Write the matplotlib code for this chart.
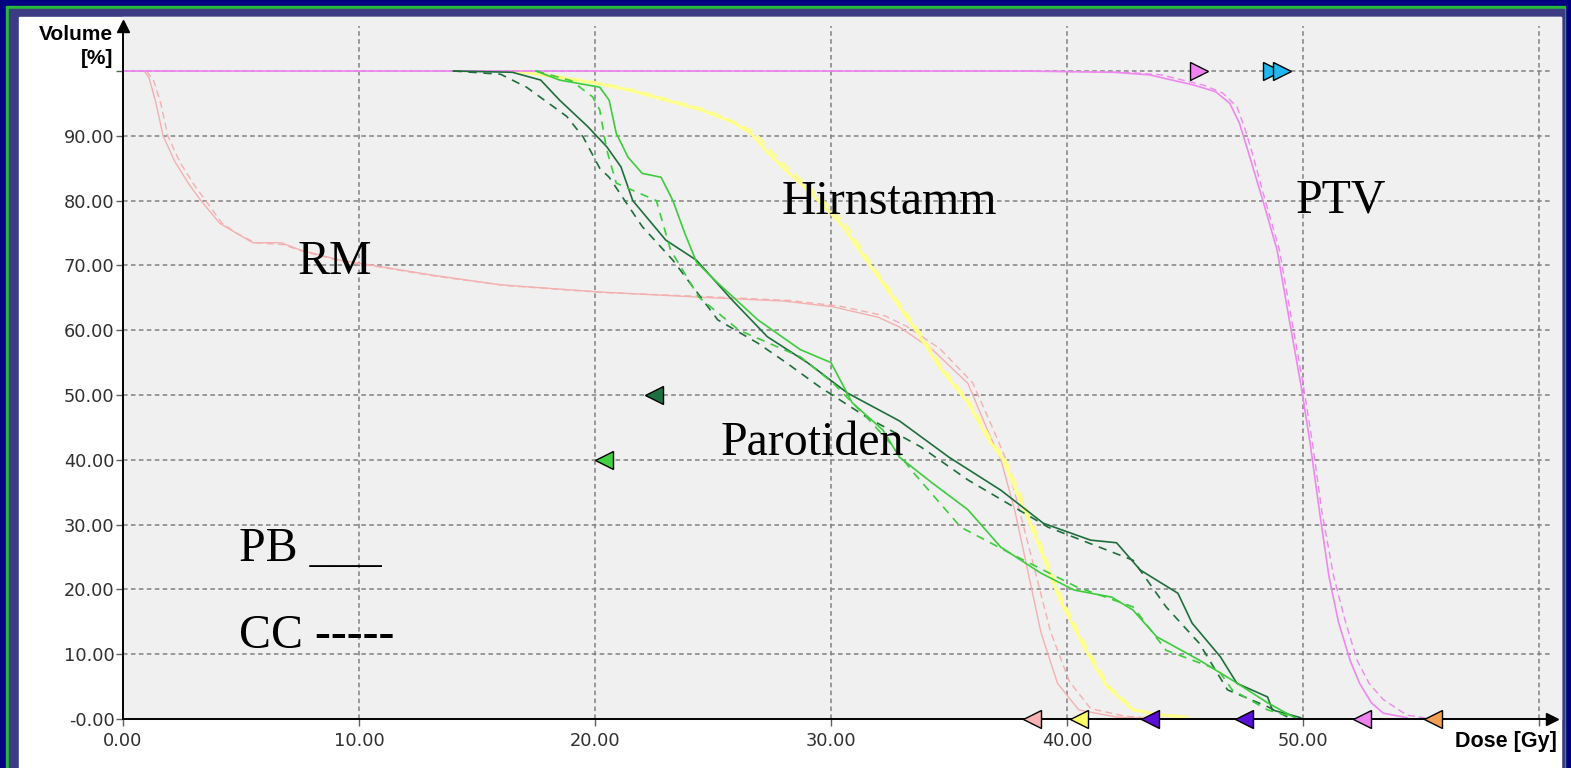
import matplotlib
matplotlib.use("Agg")
import matplotlib.pyplot as plt
from matplotlib.patches import Rectangle

# ---- data ----
rm_pb_x = [0.9, 1.1, 1.4, 1.7, 2.2, 2.8, 3.3, 4.1, 4.7, 5.5, 6.7, 7.5, 9.2, 10.6, 13.1, 16.0, 20.2,
           24.4, 28.0, 30.1, 32.0, 32.9, 34.3, 35.8, 36.7, 37.2, 37.8, 38.3, 38.9, 39.6, 40.5, 42.1, 44.0]
rm_pb_y = [100, 99, 95, 90, 86, 82.5, 80, 76.5, 75.2, 73.5, 73.5, 72.4, 70.8, 70.0, 68.5, 67.0, 65.9,
           65.1, 64.5, 63.6, 62.0, 60.5, 57.0, 51.8, 44.0, 40.0, 32.0, 23.5, 13.3, 5.5, 1.4, 0.3, 0.0]
rm_cc_x = [1.0, 1.3, 1.6, 1.9, 2.4, 3.0, 3.5, 4.2, 4.8, 5.6, 6.8, 7.6, 9.3, 10.8, 13.3, 16.2, 20.4,
           24.6, 28.2, 30.4, 32.3, 33.2, 34.6, 36.0, 36.9, 37.4, 38.0, 38.6, 39.3, 40.1, 41.0, 42.5, 44.3]
rm_cc_y = [100, 98.5, 95, 90, 86, 82.5, 80, 76.5, 75.0, 73.5, 73.2, 72.2, 70.6, 69.8, 68.3, 66.9, 65.8,
           65.2, 64.6, 63.7, 62.2, 60.6, 57.2, 51.9, 44.5, 40.2, 32.0, 23.5, 13.5, 5.8, 1.6, 0.4, 0.0]

hs_pb_x = [16.5, 17.0, 18.5, 20.2, 21.5, 23.0, 24.5, 25.9, 26.6, 27.3, 28.0, 29.2, 30.4, 31.5, 32.5,
           33.6, 34.6, 35.8, 36.7, 37.3, 38.6, 39.7, 40.8, 41.7, 42.8, 44.0, 45.0]
hs_pb_y = [100, 99.8, 99, 98, 97, 95.5, 94, 92, 90.4, 87.5, 85, 81, 76.5, 70.8, 65.7,
           60, 54.3, 48.8, 43, 40, 28.7, 18.4, 10.6, 5, 1.4, 0.6, 0.3]
hs_cc_x = [16.8, 17.3, 18.8, 20.4, 21.7, 23.2, 24.7, 26.0, 26.8, 27.5, 28.2, 29.4, 30.6, 31.6, 32.6,
           33.7, 34.7, 35.9, 36.8, 37.4, 38.7, 39.8, 40.9, 41.8, 42.9, 44.1, 45.2]
hs_cc_y = hs_pb_y

ptv_pb_x = [0, 38.0, 42.0, 43.5, 45.4, 46.3, 46.9, 47.3, 47.6, 48.3, 48.9, 49.4, 49.9, 50.3, 50.7,
            51.1, 51.5, 52.0, 52.4, 52.9, 53.4, 54.4]
ptv_pb_y = [100, 100, 99.8, 99.4, 97.8, 96.8, 95.0, 92.0, 88.5, 80, 72.4, 62, 51.8, 42.6, 32,
            22, 15, 9, 5.5, 2.5, 0.9, 0.2]
ptv_cc_x = [0, 38.5, 42.5, 44.0, 45.8, 46.6, 47.2, 47.5, 47.8, 48.4, 49.0, 49.5, 50.0, 50.4, 50.8,
            51.3, 51.8, 52.3, 52.8, 53.4, 54.4, 55.3]
ptv_cc_y = [100, 100, 99.8, 99.4, 97.8, 96.6, 94.5, 91.5, 88.0, 80, 72.4, 62, 51.8, 42.6, 32,
            22, 15, 9, 5.5, 3.0, 0.6, 0.1]

pdk_pb_x = [14.0, 16.5, 17.7, 18.5, 19.7, 20.5, 21.1, 21.6, 23.0, 24.3, 25.8, 27.3, 29.0, 30.7, 32.9,
            35.0, 37.2, 39.0, 41.0, 42.1, 43.1, 44.7, 45.3, 46.5, 47.2, 48.5, 48.7, 49.9]
pdk_pb_y = [100, 99.8, 98.6, 95.5, 91.4, 88.3, 85.2, 80, 73.9, 70.8, 64.7, 59, 55, 50.3, 46,
            40.4, 35.3, 30.2, 27.6, 27.2, 23, 19.4, 14.8, 9.6, 5.5, 3.4, 1.4, 0.2]
pdk_cc_x = [14.0, 16.0, 17.1, 18.8, 19.5, 20.2, 20.6, 22.0, 23.3, 25.2, 26.9, 28.1, 29.5, 31.5, 33.8,
            35.8, 39.2, 42.8, 44.2, 45.6, 46.8, 48.5, 49.4]
pdk_cc_y = [100, 99.5, 97.5, 93, 89.8, 85, 83.6, 76, 70.8, 61.6, 58, 55, 51.3, 46.6, 42,
            36.9, 29.6, 24.5, 17.3, 11.7, 4.5, 1.9, 0.2]

plt_pb_x = [17.5, 18.5, 20.2, 20.6, 20.9, 21.4, 22.0, 22.8, 23.3, 23.8, 24.3, 25.2, 26.9, 28.7, 30.0,
            30.9, 32.2, 32.9, 34.3, 35.8, 37.2, 38.9, 40.3, 41.9, 42.8, 43.8, 45.6, 47.0, 48.5, 49.6]
plt_pb_y = [100, 98.6, 97.5, 95.5, 90.4, 86.7, 84.2, 83.6, 80, 75, 70.5, 67.3, 61.6, 57, 55,
            48.8, 44.6, 40.4, 36.4, 32.3, 26.5, 22.5, 19.9, 18.8, 16.8, 12.7, 9.1, 6, 2.5, 0.3]
plt_cc_x = [17.5, 19.0, 19.9, 20.2, 20.5, 20.9, 22.6, 23.2, 24.4, 26.1, 28.7, 30.1, 31.5, 32.5, 33.5,
            35.5, 37.9, 40.4, 42.8, 44.2, 46.4, 47.0, 48.5, 49.7]
plt_cc_y = [100, 98.5, 96, 94, 87.8, 82.7, 80, 72.4, 65.1, 60, 55.9, 51.8, 46.6, 42.6, 38,
            29.6, 25, 20.4, 17.3, 10.6, 7.6, 4.5, 1.4, 0.2]

# triangle markers on the dose axis / at 100 %
low_marker_x = [38.5, 40.5, 43.5, 47.5, 52.5, 55.5]
low_marker_c = ['#f8b4b4', '#ffff66', '#5a10d8', '#5a10d8', '#ee82ee', '#f0a050']
top_marker_x = [45.6, 48.7, 49.1]
top_marker_c = ['#ee82ee', '#20b8f0', '#20b8f0']
mid_marker_x = [22.5, 20.4]
mid_marker_y = [50, 40]
mid_marker_c = ['#1e7040', '#40d040']

x_ticks = [0, 10, 20, 30, 40, 50, 60]
x_labels = ['0.00', '10.00', '20.00', '30.00', '40.00', '50.00', '']
y_ticks = [0, 10, 20, 30, 40, 50, 60, 70, 80, 90, 100]
y_labels = ['-0.00', '10.00', '20.00', '30.00', '40.00', '50.00', '60.00', '70.00', '80.00', '90.00', '']

labels = ['RM', 'Hirnstamm', 'PTV', 'Parotiden', 'PB ___', 'CC -----']
label_x = [7.4, 27.9, 49.7, 25.3, 4.9, 4.9]
label_y = [68.7, 77.9, 78.1, 40.7, 24.4, 11.0]

W, H = 1571, 768
fig = plt.figure(figsize=(W / 100, H / 100), dpi=100)
fig.patch.set_facecolor('#000080')


def box(x0, y0, x1, y1, color):
    # pixel box (top-left origin) -> figure rectangle
    fig.patches.append(Rectangle((x0 / W, 1 - y1 / H), (x1 - x0) / W, (y1 - y0) / H,
                                 transform=fig.transFigure, color=color, zorder=-10))


box(6, 6, 1565, 768, '#28b838')
box(9, 9, 1564, 768, '#3c3c84')
box(19, 17, 1561, 768, '#ffffff')
box(123, 17, 1561, 719, '#f0f0f0')

ax_l, ax_r, ax_b, ax_t = 123, 1552, 719, 26
ax = fig.add_axes([ax_l / W, 1 - ax_b / H, (ax_r - ax_l) / W, (ax_b - ax_t) / H])
ax.set_facecolor('none')
ax.set_xlim(0, (ax_r - ax_l) / 23.6)
ax.set_ylim(0, (ax_b - ax_t) / 6.48)

ax.grid(True, color='#808080', linestyle=(0, (3, 2.2)), linewidth=1.1)
ax.set_axisbelow(True)

# DVH curves: solid = PB, dashed = CC
ax.plot(rm_pb_x, rm_pb_y, color='#f4b0b0', lw=1.0)
ax.plot(rm_cc_x, rm_cc_y, color='#f4b0b0', lw=1.0, ls=(0, (5, 3)))
ax.plot(hs_pb_x, hs_pb_y, color='#ffff8c', lw=2.2)
ax.plot(hs_cc_x, hs_cc_y, color='#ffff8c', lw=1.6, ls=(0, (5, 3)))
ax.plot(ptv_pb_x, ptv_pb_y, color='#ee88ee', lw=1.2)
ax.plot(ptv_cc_x, ptv_cc_y, color='#ee88ee', lw=1.0, ls=(0, (5, 3)))
ax.plot(pdk_pb_x, pdk_pb_y, color='#1e6e3c', lw=1.2)
ax.plot(pdk_cc_x, pdk_cc_y, color='#1e6e3c', lw=1.2, ls=(0, (5, 4)))
ax.plot(plt_pb_x, plt_pb_y, color='#3ccc3c', lw=1.2)
ax.plot(plt_cc_x, plt_cc_y, color='#3ccc3c', lw=1.2, ls=(0, (5, 4)))

for x, c in zip(low_marker_x, low_marker_c):
    ax.plot(x, 0, marker='<', ms=13, mfc=c, mec='black', mew=1.0, clip_on=False, zorder=6)
for x, c in zip(top_marker_x, top_marker_c):
    ax.plot(x, 100, marker='>', ms=13, mfc=c, mec='black', mew=1.0, clip_on=False, zorder=6)
for x, y, c in zip(mid_marker_x, mid_marker_y, mid_marker_c):
    ax.plot(x, y, marker='<', ms=13, mfc=c, mec='black', mew=1.0, clip_on=False, zorder=6)

for s, x, y in zip(labels, label_x, label_y):
    ax.text(x, y, s, family='Liberation Serif', fontsize=34.5, color='black',
            ha='left', va='baseline', zorder=7)

# axes: only left/bottom with arrow heads
for side in ['top', 'right']:
    ax.spines[side].set_visible(False)
for side in ['left', 'bottom']:
    ax.spines[side].set_color('black')
    ax.spines[side].set_linewidth(1.4)
    ax.spines[side].set_zorder(5)
ax.plot(0, 1, marker='^', ms=9, color='black', transform=ax.transAxes, clip_on=False, zorder=8)
ax.plot(1, 0, marker='>', ms=9, color='black', transform=ax.transAxes, clip_on=False, zorder=8)

ax.set_xticks(x_ticks)
ax.set_xticklabels(x_labels)
ax.set_yticks(y_ticks)
ax.set_yticklabels(y_labels)
ax.tick_params(direction='out', length=5, width=1, color='#606060', labelcolor='#303030',
               labelsize=12.8, pad=1)
ax.tick_params(axis='x', pad=4)
for lab in ax.get_xticklabels() + ax.get_yticklabels():
    lab.set_family('DejaVu Sans')

fig.text(113 / W, 1 - 25 / H, 'Volume\n[%]', family='Liberation Sans', weight='bold',
         fontsize=15, ha='right', va='top', linespacing=1.3, color='black')
fig.text(1557 / W, 1 - 731 / H, 'Dose [Gy]', family='Liberation Sans', weight='bold',
         fontsize=15.5, ha='right', va='top', color='black')

fig.savefig('out.png', dpi=100, facecolor=fig.get_facecolor())
